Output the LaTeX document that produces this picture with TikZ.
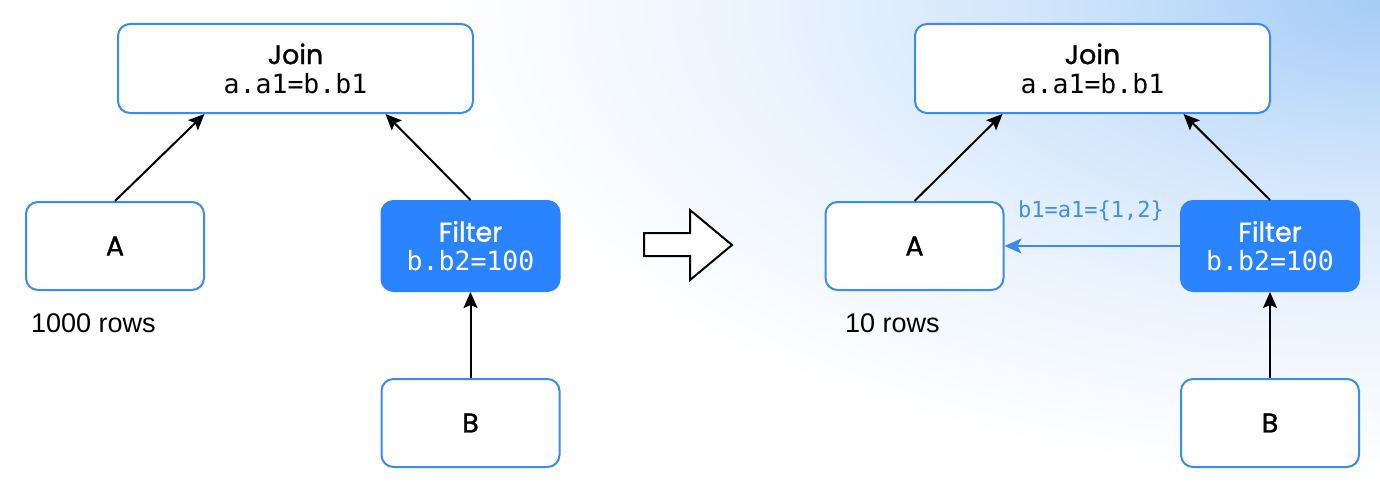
\documentclass[tikz,border=0pt]{standalone}
\usepackage{fontspec}
\setmainfont{Poppins}[FakeBold=1.2]
\setmonofont{DejaVu Sans Mono}
\newfontfamily\rowsfont{Liberation Sans}
\usetikzlibrary{arrows.meta,calc}
\definecolor{bordblue}{RGB}{58,140,240}
\definecolor{fillblue}{RGB}{43,132,255}
\definecolor{lblblue}{RGB}{63,142,235}
\definecolor{bgA}{RGB}{165,204,247}
\definecolor{bgB}{RGB}{205,227,251}
\definecolor{bgC}{RGB}{234,243,254}
\pgfdeclareradialshading{bgshade}{\pgfpoint{0bp}{0bp}}{color(0bp)=(bgA); color(8bp)=(bgB); color(16bp)=(bgC); color(25bp)=(white); color(50bp)=(white)}
\tikzset{
  box/.style={draw=bordblue, line width=2pt, fill=white, rounded corners=12pt,
    minimum width=#1, inner sep=0pt, align=center,
    font=\fontsize{27}{32}\selectfont},
  box/.default=178pt,
  filterbox/.style={box, fill=fillblue, draw=fillblue, text=white},
  conn/.style={line width=2pt, draw=black, -{Stealth[length=16pt,width=14pt,inset=3pt]}},
  bconn/.style={line width=2pt, draw=bordblue, -{Stealth[length=17pt,width=15pt,inset=4pt]}},
  rows/.style={font=\rowsfont\fontsize{27}{30}\selectfont, anchor=west, inner sep=0pt},
}
\newcommand{\codetxt}[1]{{\ttfamily\fontsize{26.5}{32}\selectfont #1}}
\begin{document}
\begin{tikzpicture}[x=1pt,y=-1pt]
\useasboundingbox (0,0) rectangle (1380,487);
\fill[white] (0,0) rectangle (1380,487);
\begin{scope}
\clip (0,0) rectangle (1380,487);
\shade[shading=bgshade] (1380,0) ellipse (950 and 480);
\end{scope}

% left
\node[box=355pt, minimum height=89pt] (J1) at (295.5,68.5) {Join\\[-3pt]\codetxt{a.a1=b.b1}};
\node[box, minimum height=88pt] (A1) at (115,246) {A};
\node[filterbox, minimum height=90pt] (F1) at (470.5,246) {Filter\\[-3pt]\codetxt{b.b2=100}};
\node[box, minimum height=88pt] (B1) at (470.5,423) {B};
\node[rows] (R1) at (31,323) {1000 rows};
\draw[conn] (A1.north) -- ([xshift=-91pt]J1.south);
\draw[conn] (F1.north) -- ([xshift=90pt]J1.south);
\draw[conn] (B1.north) -- (F1.south);

% hollow arrow
\draw[line width=2pt, fill=white, line join=miter] (644,233) -- (690,233) -- (690,210) -- (732,245) -- (690,280) -- (690,256) -- (644,256) -- cycle;

% right
\node[box=355pt, minimum height=89pt] (J2) at (1092.5,68.5) {Join\\[-3pt]\codetxt{a.a1=b.b1}};
\node[box, minimum height=88pt] (A2) at (914.5,246) {A};
\node[filterbox, minimum height=90pt] (F2) at (1270,246) {Filter\\[-3pt]\codetxt{b.b2=100}};
\node[box, minimum height=88pt] (B2) at (1270,423) {B};
\node[rows] (R2) at (845,323) {10 rows};
\draw[conn] (A2.north) -- ([xshift=-90pt]J2.south);
\draw[conn] (F2.north) -- ([xshift=91pt]J2.south);
\draw[conn] (B2.north) -- (F2.south);
\draw[bconn] (F2.west) -- (A2.east);
\node[text=lblblue, font=\ttfamily\fontsize{22}{26}\selectfont, inner sep=0pt] (L2) at (1091,211) {b1=a1=\{1,2\}};
\end{tikzpicture}
\end{document}
